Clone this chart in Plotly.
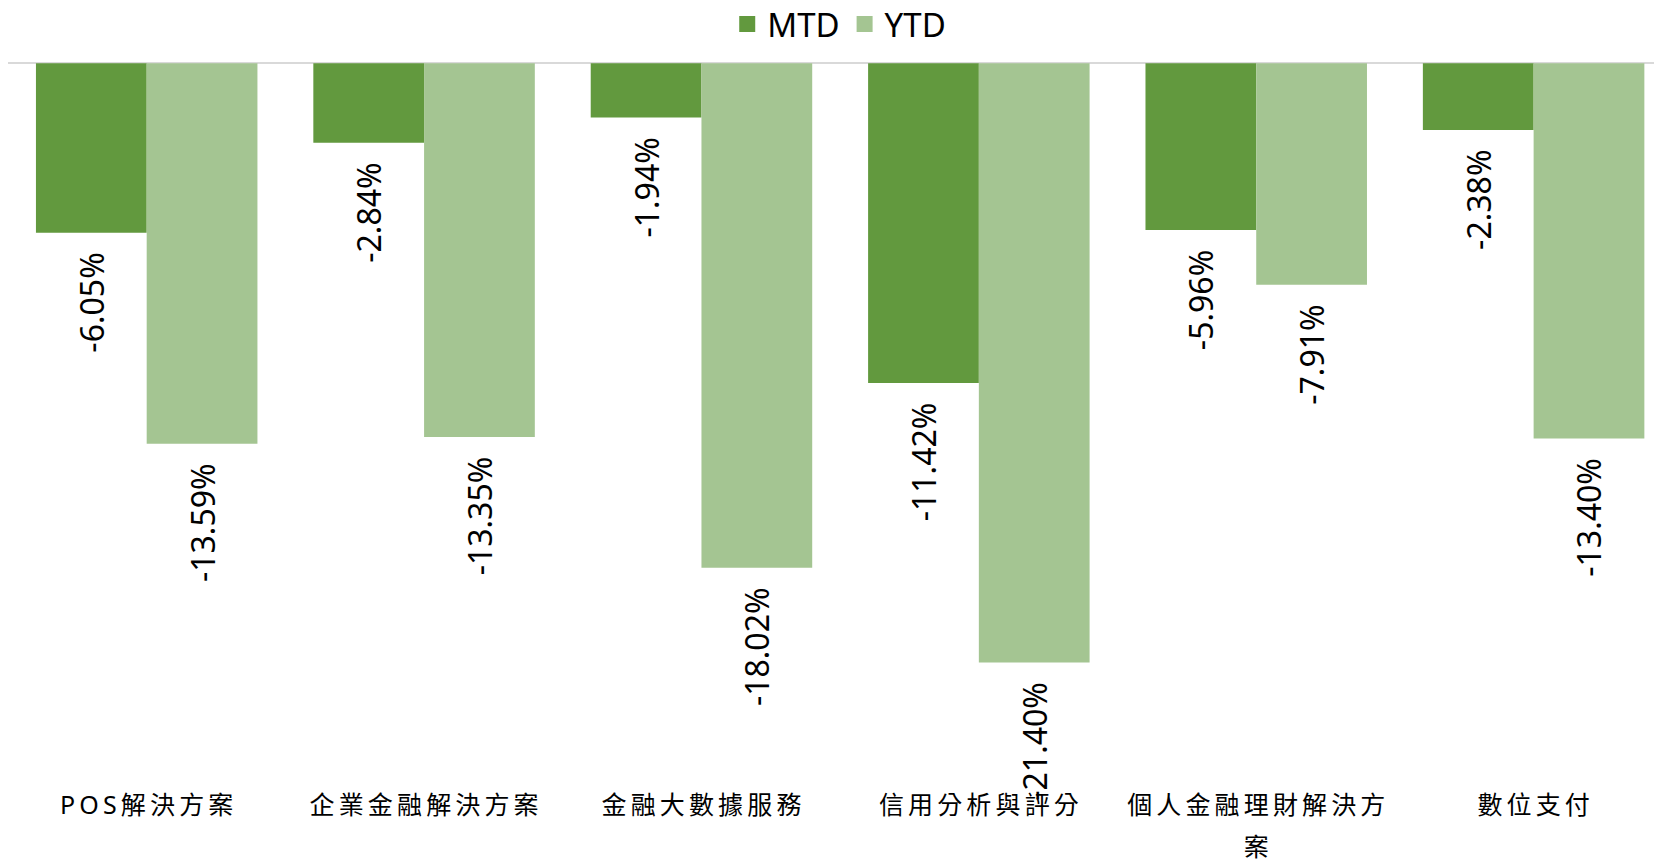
import plotly.graph_objects as go

categories = ["POS解決方案", "企業金融解決方案", "金融大數據服務", "信用分析與評分", "個人金融理財解決方\n案", "數位支付"]
mtd = [-6.05, -2.84, -1.94, -11.42, -5.96, -2.38]
ytd = [-13.59, -13.35, -18.02, -21.40, -7.91, -13.40]
series_names = ["MTD", "YTD"]
colors = ["#62993E", "#A4C592"]

FONT = "Noto Sans, Noto Sans CJK TC, sans-serif"
NB = "\u00a0"
SP = "\u2009"


def spaced(label):
    lines = [SP.join(list(l)) for l in label.split("\n")]
    out = lines[0]
    for l in lines[1:]:
        out += '<br><span style="baseline-shift:-9px">' + l + "</span>"
    return out


tick_text = [spaced(c) for c in categories]

fig = go.Figure()
for name, vals, col in zip(series_names, [mtd, ytd], colors):
    fig.add_trace(go.Bar(
        x=categories, y=vals, name=name,
        marker=dict(color=col, line=dict(width=0)),
        text=[f"{v:.2f}%" + NB * 2 for v in vals],
        textposition="outside", textangle=-90,
        constraintext="none", cliponaxis=False,
        textfont=dict(family=FONT, size=32, color="#000000"),
        showlegend=False,
    ))
    fig.add_trace(go.Scatter(
        x=[None], y=[None], mode="markers", name=name,
        marker=dict(symbol="square", size=20, color=col),
        showlegend=True,
    ))

fig.update_layout(
    width=1654, height=861,
    margin=dict(l=8, r=0, t=61, b=81, autoexpand=False),
    paper_bgcolor="white", plot_bgcolor="white",
    barmode="group", bargap=0.2015, bargroupgap=0,
    font=dict(family=FONT, color="#000000"),
    legend=dict(orientation="h", x=0.505, xanchor="center", y=1.0515, yanchor="middle",
                font=dict(size=33, family=FONT), itemwidth=30,
                bgcolor="rgba(0,0,0,0)"),
    xaxis=dict(showline=False, showgrid=False, ticks="", zeroline=False,
               tickmode="array", tickvals=categories, ticktext=tick_text,
               tickfont=dict(size=25, family=FONT), range=[-0.5, 5.434], automargin=False,
               ticklabelstandoff=8),
    yaxis=dict(range=[-25.6, 0.08], showgrid=False, showticklabels=False, ticks="",
               zeroline=True, zerolinecolor="#D9D9D9", zerolinewidth=2, showline=False,
               automargin=False),
)

fig.write_html("out.html", config={"displayModeBar": False},
               post_script="document.body.style.margin='0px';")
